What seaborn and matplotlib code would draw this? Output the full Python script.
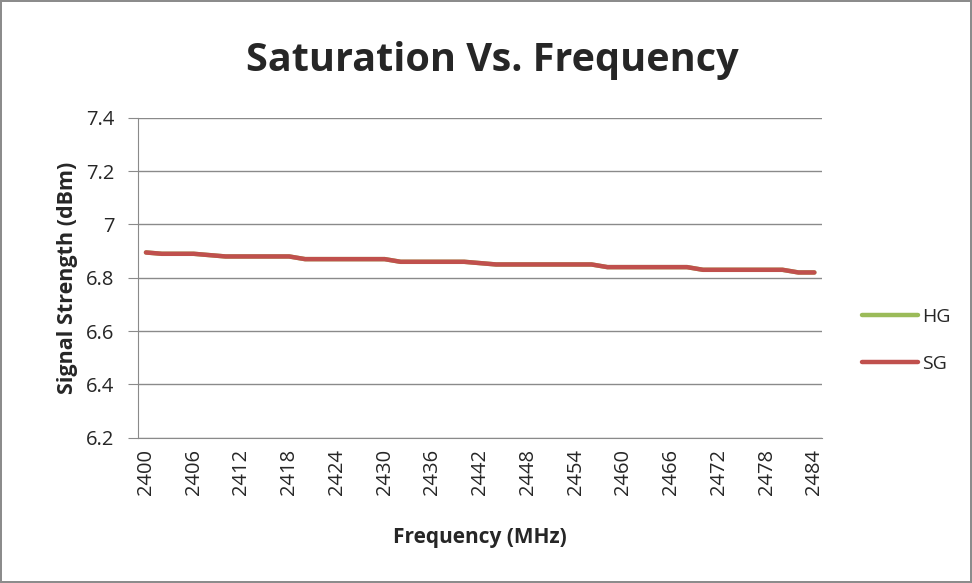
import numpy as np
import pandas as pd
import seaborn as sns
import matplotlib.pyplot as plt

# frequencies 2400..2484 MHz in 2 MHz steps (category axis)
freqs = list(range(2400, 2486, 2))
sg_values = [6.895, 6.89, 6.89, 6.89, 6.885, 6.88, 6.88, 6.88, 6.88, 6.88,
             6.87, 6.87, 6.87, 6.87, 6.87, 6.87, 6.86, 6.86, 6.86, 6.86,
             6.86, 6.855, 6.85, 6.85, 6.85, 6.85, 6.85, 6.85, 6.85, 6.84,
             6.84, 6.84, 6.84, 6.84, 6.84, 6.83, 6.83, 6.83, 6.83, 6.83,
             6.83, 6.82, 6.82]
hg_values = list(sg_values)  # hidden under SG in the original
series_names = ["HG", "SG"]
y_ticks = [6.2, 6.4, 6.6, 6.8, 7.0, 7.2, 7.4]


def main():
    sns.set_style("white")
    plt.rcParams['font.family'] = ['Open Sans', 'DejaVu Sans']

    df = pd.DataFrame({
        "pos": list(range(len(freqs))) * 2,
        "value": hg_values + sg_values,
        "series": ["HG"] * len(freqs) + ["SG"] * len(freqs),
    })

    fig = plt.figure(figsize=(9.72, 5.83), dpi=100)
    fig.patch.set_edgecolor("#8c8c8c")
    fig.patch.set_linewidth(1.5)
    ax = fig.add_axes([0.142, 0.249, 0.704, 0.549])

    palette = {"HG": "#9BBB59", "SG": "#C0504D"}
    sns.lineplot(data=df, x="pos", y="value", hue="series", hue_order=series_names,
                 palette=palette, linewidth=3.2, ax=ax, legend=True)

    ax.set_xlim(-0.5, len(freqs) - 0.5)
    ax.set_ylim(6.2, 7.4)
    ax.set_yticks(y_ticks)
    ax.set_yticklabels([f"{v:g}" for v in y_ticks], fontsize=14.5)
    tick_pos = list(range(0, len(freqs), 3))
    ax.set_xticks(tick_pos)
    ax.set_xticklabels([str(freqs[i]) for i in tick_pos], rotation=90, fontsize=14.5)

    ax.grid(axis='y', color="#8a8a8a", linewidth=1)
    for side in ["top", "right"]:
        ax.spines[side].set_visible(False)
    for side in ["left", "bottom"]:
        ax.spines[side].set_color("#8a8a8a")
    ax.tick_params(axis='y', which='major', length=7, color="#8a8a8a", left=True, pad=10)
    ax.tick_params(axis='x', length=0, pad=8)

    ax.set_xlabel("Frequency (MHz)", fontsize=15, fontweight='bold', labelpad=23)
    ax.set_ylabel("Signal Strength (dBm)", fontsize=15.5, fontweight='bold', labelpad=6)
    fig.suptitle("Saturation Vs. Frequency", x=0.507, y=0.897, va='center',
                 fontsize=28.5, fontweight='bold')

    leg = ax.legend(loc='center left', bbox_to_anchor=(1.058, 0.305), frameon=False,
                    fontsize=14, handlelength=2.9, handletextpad=0.2,
                    labelspacing=1.5, borderaxespad=0, borderpad=0)
    for line in leg.get_lines():
        line.set_linewidth(3.2)

    fig.savefig("out.png", dpi=100)


if __name__ == "__main__":
    main()
